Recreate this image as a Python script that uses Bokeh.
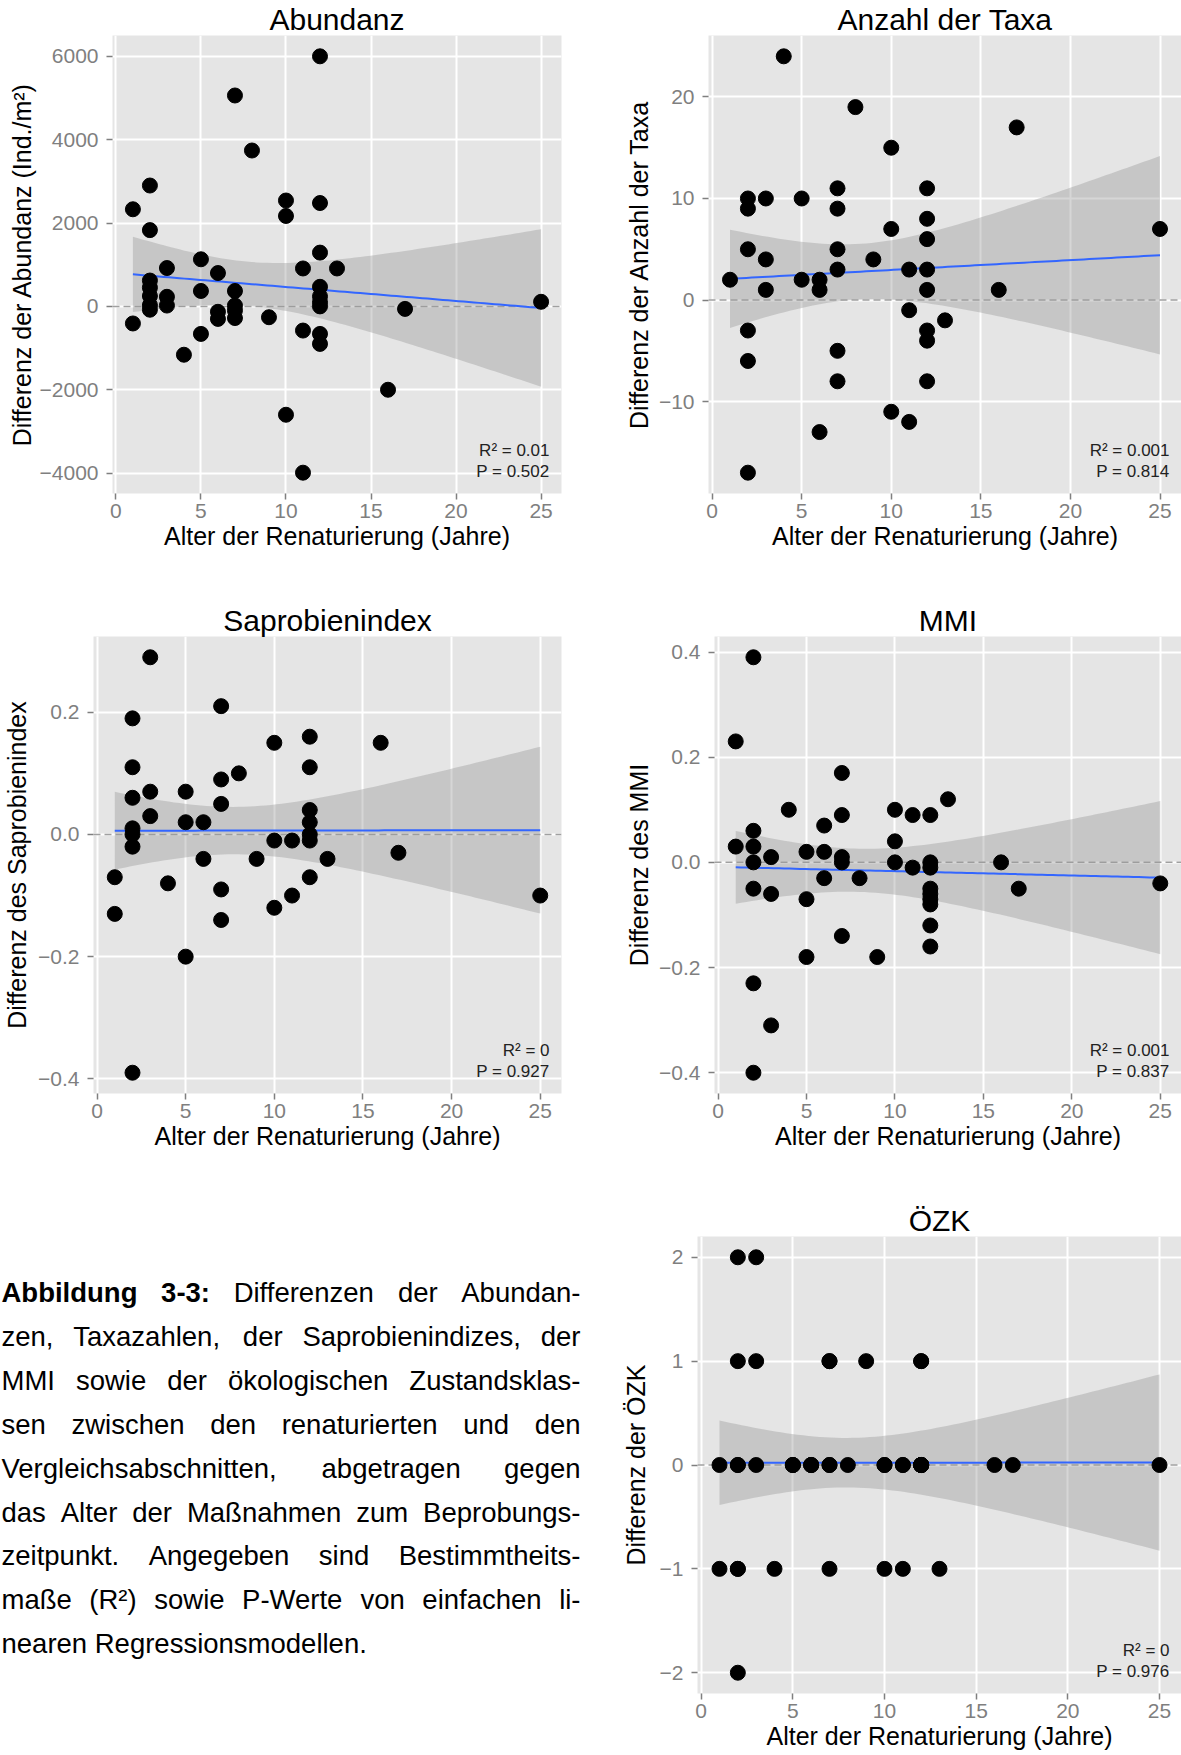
import numpy as np
from bokeh.plotting import figure
from bokeh.layouts import column, row
from bokeh.models import Range1d, FixedTicker, Span, CustomJSTickFormatter
from bokeh.core.properties import value
from bokeh.embed import file_html
from bokeh.resources import INLINE

FONT = "Liberation Sans"
X_LABEL = "Alter der Renaturierung (Jahre)"
X_TICKS = [0, 5, 10, 15, 20, 25]

# ---------------- data ----------------
abund_x = [1, 1, 2, 2, 2, 2, 2, 2, 2, 3, 3, 3, 4, 5, 5, 5, 6, 6, 6, 7, 7, 7, 7, 7, 8, 9,
           10, 10, 10, 11, 11, 11, 12, 12, 12, 12, 12, 12, 12, 12, 12, 13, 16, 17, 25]
abund_y = [2330, -410, 2900, 1830, 620, 450, 250, 30, -80, 920, 230, 20, -1160, 1130, 370, -660,
           800, -130, -300, 5060, 370, 20, -100, -280, 3740, -260, 2540, 2170, -2600, 910, -580,
           -3990, 6000, 2480, 1290, 470, 240, 100, 0, -660, -900, 910, -2000, -60, 110]

taxa_x = [1, 2, 2, 2, 2, 2, 2, 3, 3, 3, 4, 5, 5, 6, 6, 6, 7, 7, 7, 7, 7, 7, 8, 9, 10, 10, 10,
          11, 11, 11, 12, 12, 12, 12, 12, 12, 12, 12, 13, 16, 17, 25]
taxa_y = [2, 10, 9, 5, -3, -6, -17, 10, 4, 1, 24, 10, 2, 2, 1, -13, 11, 9, 5, 3, -5, -8, 19, 4,
          15, 7, -11, 3, -1, -12, 11, 8, 6, 3, 1, -3, -4, -8, -2, 1, 17, 7]

sap_x = [1, 1, 2, 2, 2, 2, 2, 2, 2, 3, 3, 3, 4, 5, 5, 5, 6, 6, 7, 7, 7, 7, 7, 8, 9, 10, 10, 10,
         11, 11, 12, 12, 12, 12, 12, 12, 12, 13, 16, 17, 25]
sap_y = [-0.07, -0.13, 0.19, 0.11, 0.06, 0.01, 0.0, -0.02, -0.39, 0.29, 0.07, 0.03, -0.08,
         0.07, 0.02, -0.20, 0.02, -0.04, 0.21, 0.09, 0.05, -0.09, -0.14, 0.10, -0.04,
         0.15, -0.01, -0.12, -0.01, -0.10, 0.16, 0.11, 0.04, 0.02, 0.0, -0.01, -0.07,
         -0.04, 0.15, -0.03, -0.10]

mmi_x = [1, 1, 2, 2, 2, 2, 2, 2, 2, 3, 3, 3, 4, 5, 5, 5, 6, 6, 6, 7, 7, 7, 7, 7, 8, 9, 10, 10, 10,
         11, 11, 12, 12, 12, 12, 12, 12, 12, 12, 12, 13, 16, 17, 25]
mmi_y = [0.23, 0.03, 0.39, 0.06, 0.03, 0.0, -0.05, -0.23, -0.40, 0.01, -0.06, -0.31, 0.10,
         0.02, -0.07, -0.18, 0.07, 0.02, -0.03, 0.17, 0.09, 0.01, 0.0, -0.14, -0.03, -0.18,
         0.10, 0.04, 0.0, 0.09, -0.01, 0.09, 0.0, -0.01, -0.05, -0.06, -0.07, -0.08, -0.12,
         -0.16, 0.12, 0.0, -0.05, -0.04]

ozk_x = [1, 1, 2, 2, 2, 2, 2, 2, 2, 3, 3, 3, 4, 5, 5, 5, 6, 6, 6, 7, 7, 7, 7, 7, 8, 9,
         10, 10, 10, 11, 11, 11, 12, 12, 12, 12, 12, 12, 12, 12, 12, 13, 16, 17, 25]
ozk_y = [0, -1, 2, 1, 0, 0, -1, -1, -2, 2, 1, 0, -1, 0, 0, 0, 0, 0, 0, 1, 1, 0, 0, -1, 0, 1,
         0, 0, -1, 0, 0, -1, 1, 1, 0, 0, 0, 0, 0, 0, 0, -1, 0, 0, 0]

stats_text = {
    "abund": ["R² = 0.01", "P = 0.502"],
    "taxa": ["R² = 0.001", "P = 0.814"],
    "sap": ["R² = 0", "P = 0.927"],
    "mmi": ["R² = 0.001", "P = 0.837"],
    "ozk": ["R² = 0", "P = 0.976"],
}

caption_lines = [
    "Abbildung 3-3: Differenzen der Abundan-",
    "zen, Taxazahlen, der Saprobienindizes, der",
    "MMI sowie der ökologischen Zustandsklas-",
    "sen zwischen den renaturierten und den",
    "Vergleichsabschnitten, abgetragen gegen",
    "das Alter der Maßnahmen zum Beprobungs-",
    "zeitpunkt. Angegeben sind Bestimmtheits-",
    "maße (R²) sowie P-Werte von einfachen li-",
    "nearen Regressionsmodellen.",
]
caption_bold_words = 2

T95 = 2.02


def fmt(dec):
    return CustomJSTickFormatter(code=(
        "const s = Math.abs(tick).toFixed(%d);"
        "return (tick < -1e-9 ? '\\u2212' : '') + s;" % dec))


def panel(title, ylab, xs, ys, yticks, dec, stats, width, height, bl, br, bt, bb, ylab_standoff):
    xs = np.asarray(xs, float)
    ys = np.asarray(ys, float)
    xlo, xhi = xs.min(), xs.max()
    xp = 0.05 * (xhi - xlo)
    ylo, yhi = ys.min(), ys.max()
    yp = 0.05 * (yhi - ylo)
    xr = (xlo - xp, xhi + xp)
    yr = (ylo - yp, yhi + yp)
    p = figure(width=width, height=height, output_backend="svg", toolbar_location=None,
               x_range=Range1d(*xr), y_range=Range1d(*yr),
               min_border_left=bl, min_border_right=br, min_border_top=bt, min_border_bottom=bb,
               background_fill_color="#E5E5E5", border_fill_color="white",
               outline_line_color=None, title=title)
    p.title.align = "center"
    p.title.text_font = FONT
    p.title.text_font_size = "30px"
    p.title.text_font_style = "normal"
    p.title.text_color = "black"
    p.title.standoff = 0

    p.xgrid.ticker = FixedTicker(ticks=X_TICKS)
    p.ygrid.ticker = FixedTicker(ticks=yticks)
    p.grid.grid_line_color = "white"
    p.grid.grid_line_width = 2
    p.xaxis.ticker = FixedTicker(ticks=X_TICKS)
    p.yaxis.ticker = FixedTicker(ticks=yticks)
    p.xaxis.formatter = fmt(0)
    p.yaxis.formatter = fmt(dec)
    for ax in (p.xaxis[0], p.yaxis[0]):
        ax.axis_line_color = None
        ax.major_tick_line_color = "#7F7F7F"
        ax.major_tick_line_width = 1.5
        ax.major_tick_out = 6
        ax.major_tick_in = 0
        ax.minor_tick_line_color = None
        ax.major_label_text_color = "#7F7F7F"
        ax.major_label_text_font = FONT
        ax.major_label_text_font_size = "21px"
        ax.axis_label_text_font = FONT
        ax.axis_label_text_font_size = "25px"
        ax.axis_label_text_font_style = "normal"
        ax.axis_label_text_color = "black"
    p.xaxis.axis_label = X_LABEL
    p.yaxis.axis_label = ylab
    p.xaxis.major_label_standoff = 4
    p.xaxis.axis_label_standoff = 1
    p.yaxis.major_label_standoff = 8
    p.yaxis.axis_label_standoff = ylab_standoff

    zero = Span(location=0, dimension="width", line_color="#A0A0A0", line_width=1.5,
                line_dash="7 4", level="underlay")
    p.add_layout(zero)

    # linear regression with 95% confidence band (as geom_smooth(method="lm"))
    n = len(xs)
    xm = xs.mean()
    sxx = ((xs - xm) ** 2).sum()
    b = ((xs - xm) * (ys - ys.mean())).sum() / sxx
    a = ys.mean() - b * xm
    s = np.sqrt(((ys - (a + b * xs)) ** 2).sum() / (n - 2))
    xg = np.linspace(xlo, xhi, 80)
    fit = a + b * xg
    half = T95 * s * np.sqrt(1.0 / n + (xg - xm) ** 2 / sxx)
    p.varea(x=xg, y1=fit - half, y2=fit + half, fill_color="#999999", fill_alpha=0.4)
    p.line(xg, fit, line_color="#3366FF", line_width=2)
    p.scatter(xs, ys, size=15, fill_color="black", line_color="black")

    fw = width - bl - br
    fh = height - bt - bb
    tx = xr[1] - 12.0 / fw * (xr[1] - xr[0])
    ty1 = yr[0] + 43.0 / fh * (yr[1] - yr[0])
    ty2 = yr[0] + 22.0 / fh * (yr[1] - yr[0])
    p.text(x=[tx, tx], y=[ty1, ty2], text=stats, text_font=value(FONT),
           text_font_size="17px", text_align="right", text_baseline="middle",
           text_color="#222222")
    return p


p1 = panel("Abundanz", "Differenz der Abundanz (Ind./m²)", abund_x, abund_y,
           [-4000, -2000, 0, 2000, 4000, 6000], 0, stats_text["abund"],
           590, 601, 112, 29, 35, 108, 1)
p2 = panel("Anzahl der Taxa", "Differenz der Anzahl der Taxa", taxa_x, taxa_y,
           [-10, 0, 10, 20], 0, stats_text["taxa"],
           591, 601, 118, 0, 35, 108, 3)
p3 = panel("Saprobienindex", "Differenz des Saprobienindex", sap_x, sap_y,
           [-0.4, -0.2, 0.0, 0.2], 1, stats_text["sap"],
           590, 600, 93, 29, 35, 108, 4)
p4 = panel("MMI", "Differenz des MMI", mmi_x, mmi_y,
           [-0.4, -0.2, 0.0, 0.2, 0.4], 1, stats_text["mmi"],
           591, 600, 124, 0, 35, 108, 3)
p5 = panel("ÖZK", "Differenz der ÖZK", ozk_x, ozk_y,
           [-2, -1, 0, 1, 2], 0, stats_text["ozk"],
           591, 554, 107, 0, 35, 62, 7)

# ---------------- caption (justified text) ----------------
REG = {' ': 278, '(': 333, ')': 333, ',': 278, '-': 333, '.': 278, ':': 278, '²': 333,
       'A': 667, 'B': 667, 'D': 722, 'M': 833, 'I': 278, 'P': 667, 'R': 722, 'S': 667,
       'T': 611, 'V': 667, 'W': 944, 'Z': 611,
       'a': 556, 'b': 556, 'c': 500, 'd': 556, 'e': 556, 'f': 278, 'g': 556, 'h': 556,
       'i': 222, 'j': 222, 'k': 500, 'l': 222, 'm': 833, 'n': 556, 'o': 556, 'p': 556,
       'q': 556, 'r': 333, 's': 500, 't': 278, 'u': 556, 'v': 500, 'w': 722, 'x': 500,
       'y': 500, 'z': 500, 'ß': 611, 'ö': 556, 'ä': 556, 'ü': 556}
BOLD = {'A': 722, 'b': 611, 'i': 278, 'l': 278, 'd': 611, 'u': 611, 'n': 611, 'g': 611,
        ' ': 278, '-': 333, ':': 333}
CAP_FS = 27.5
CAP_LEFT = 1.0
CAP_RIGHT = 580.0
CAP_Y0 = 1292.0
CAP_DY = 43.9

# the caption sits beside the ÖZK panel; its frame shares that panel's top/bottom borders
CAP_TOP, CAP_BOTTOM = 35, 62
ROW3_TOP, ROW3_H = 1201, 554


def wwidth(word, bold):
    tab = BOLD if bold else REG
    return sum(tab.get(c, 556) for c in word) / 1000.0 * CAP_FS


cap = figure(width=590, height=ROW3_H, output_backend="svg", toolbar_location=None,
             x_range=Range1d(0, 590),
             y_range=Range1d(ROW3_TOP + ROW3_H - CAP_BOTTOM, ROW3_TOP + CAP_TOP),
             x_axis_location=None, y_axis_location=None,
             min_border_left=0, min_border_right=0,
             min_border_top=CAP_TOP, min_border_bottom=CAP_BOTTOM,
             outline_line_color=None, background_fill_color="white",
             border_fill_color="white")
cap.grid.visible = False

reg_x, reg_y, reg_t = [], [], []
bold_x, bold_y, bold_t = [], [], []
for i, line in enumerate(caption_lines):
    words = line.split(" ")
    flags = [(i == 0 and k < caption_bold_words) for k in range(len(words))]
    widths = [wwidth(w, f) for w, f in zip(words, flags)]
    if i < len(caption_lines) - 1 and len(words) > 1:
        gap = (CAP_RIGHT - CAP_LEFT - sum(widths)) / (len(words) - 1)
    else:
        gap = 0.278 * CAP_FS
    xpos = CAP_LEFT
    yy = CAP_Y0 + i * CAP_DY
    for w, f, wd in zip(words, flags, widths):
        if f:
            bold_x.append(xpos); bold_y.append(yy); bold_t.append(w)
        else:
            reg_x.append(xpos); reg_y.append(yy); reg_t.append(w)
        xpos += wd + gap

cap.text(x=reg_x, y=reg_y, text=reg_t, text_font=value(FONT), text_font_size="%.1fpx" % CAP_FS,
         text_align="left", text_baseline="middle", text_color="black")
cap.text(x=bold_x, y=bold_y, text=bold_t, text_font=value(FONT), text_font_size="%.1fpx" % CAP_FS,
         text_align="left", text_baseline="middle", text_color="black",
         text_font_style="bold")

layout = column(row(p1, p2), row(p3, p4), row(cap, p5))
open("out.html", "w").write(file_html(layout, INLINE))
